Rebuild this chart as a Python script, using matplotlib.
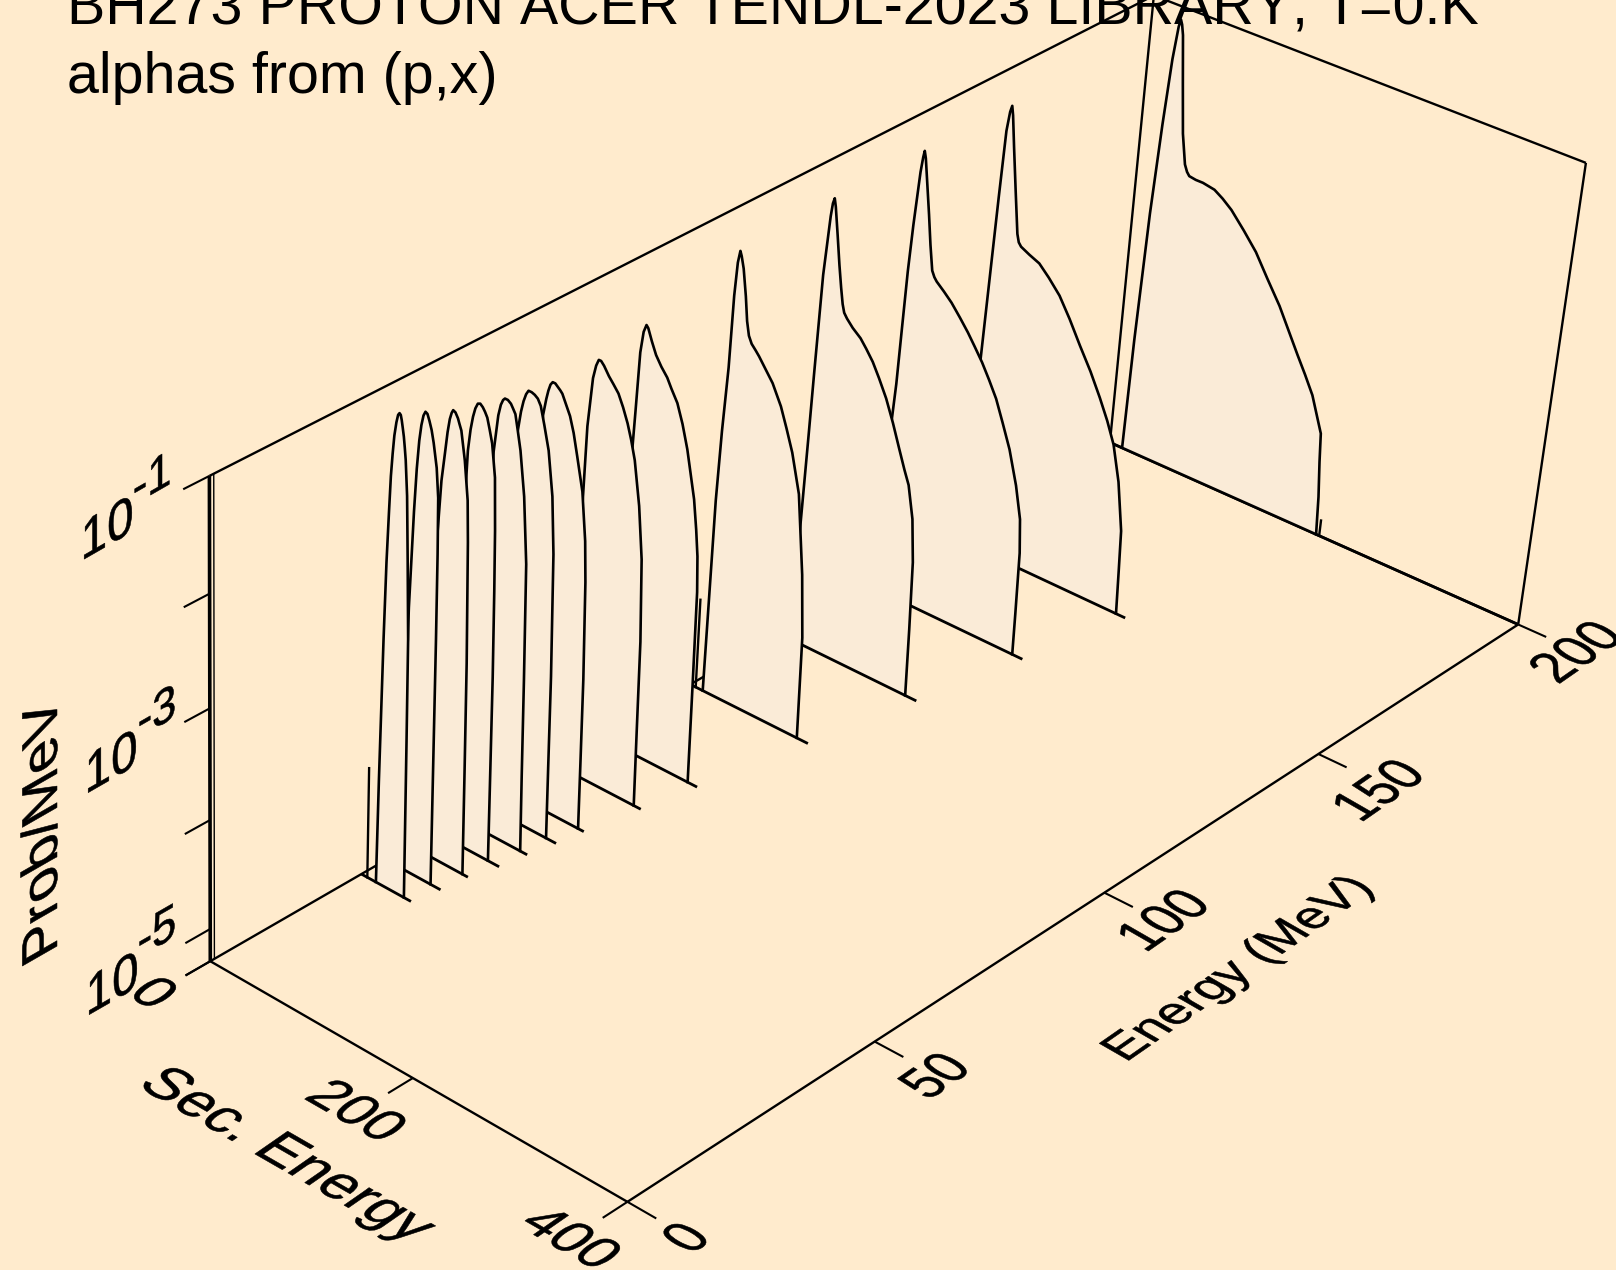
import numpy as np
import matplotlib
matplotlib.use("Agg")
import matplotlib.pyplot as plt
from matplotlib.patheffects import AbstractPathEffect
from matplotlib.transforms import Affine2D

# Incident energies of the ribs (MeV), and where each floor line stops
energies = [200, 160, 140, 120, 100, 80, 70, 60, 55, 50, 45, 40, 35, 30]
base_end = [400, 177, 158, 138, 118, 98, 88, 78, 74, 69, 65, 58, 55, 50]

# Secondary energy (MeV) and log10(prob/MeV)
sec_200 = [12.5, 13.9, 16.8, 20.2, 23.4, 26.2, 27.7, 29.2, 31, 35.5, 40.4, 45.3, 48, 50.5, 57, 64, 75.5, 84, 93.4, 107, 120.5, 134, 148, 159, 170, 179, 188, 200, 202, 205, 207]
log_200 = [-5.3, -4.22, -2.98, -2.12, -1.5, -1.19, -1.12, -1.16, -1.25, -1.68, -2.13, -2.4, -2.46, -2.49, -2.5, -2.5, -2.52, -2.57, -2.64, -2.78, -2.93, -3.13, -3.33, -3.52, -3.71, -3.86, -4.02, -4.34, -4.61, -4.94, -5.3]
sec_160 = [12.5, 17, 21.5, 23.5, 25.5, 27, 28.5, 32, 37, 42, 44, 46.5, 55, 65, 75, 86.6, 98, 110, 122, 133, 142, 150, 158, 165, 166.5, 168]
log_160 = [-5.3, -3.53, -1.97, -1.36, -1.18, -1.12, -1.2, -1.48, -1.86, -2.23, -2.3, -2.33, -2.37, -2.41, -2.5, -2.62, -2.79, -2.99, -3.18, -3.38, -3.56, -3.75, -4.07, -4.51, -4.89, -5.3]
sec_140 = [12.5, 14.5, 16.5, 18, 19.5, 21.5, 24.5, 26, 27, 28.5, 32, 35.5, 39, 42.5, 45, 47.5, 55, 63, 72, 80.5, 88, 96, 104, 112, 120, 128.5, 137.5, 144, 146.5, 147.5, 148]
log_140 = [-5.3, -3.68, -3.3, -2.76, -2.24, -1.81, -1.32, -1.18, -1.12, -1.18, -1.42, -1.66, -1.92, -2.14, -2.19, -2.22, -2.28, -2.35, -2.45, -2.55, -2.65, -2.76, -2.89, -3.03, -3.22, -3.43, -3.73, -4.02, -4.33, -4.91, -5.3]
sec_120 = [12.5, 14.5, 16.8, 18.3, 20.8, 24.3, 25.6, 27, 28.5, 32, 35.5, 38.5, 41, 43, 46, 52, 60, 66, 73, 80, 88, 96, 103.5, 110, 115, 121, 124.5, 126, 127]
log_120 = [-5.3, -4.2, -3.35, -2.75, -1.84, -1.3, -1.18, -1.13, -1.2, -1.44, -1.69, -1.88, -2.02, -2.09, -2.13, -2.19, -2.25, -2.32, -2.41, -2.53, -2.68, -2.87, -3.07, -3.24, -3.36, -3.65, -4.04, -4.67, -5.3]
sec_100 = [12.6, 15.2, 17.5, 20.5, 22, 23.7, 25.5, 27, 29.5, 33, 35.5, 38, 41, 45, 48.7, 55, 62.9, 72, 78.5, 85.3, 94, 102, 106, 107]
log_100 = [-5.3, -3.48, -2.83, -2.24, -1.59, -1.29, -1.18, -1.22, -1.32, -1.55, -1.76, -1.88, -1.94, -1.98, -2.02, -2.1, -2.2, -2.37, -2.54, -2.73, -3.07, -3.78, -4.35, -5.3]
sec_80 = [14, 16, 19.5, 21, 23, 25.3, 27.7, 29.5, 31.5, 33.5, 38, 43.5, 49.5, 54, 60.2, 66, 71.7, 76, 80.5, 84, 86.5, 88, 88.4, 88.6]
log_80 = [-5.3, -4, -2.55, -2.18, -1.65, -1.46, -1.39, -1.41, -1.46, -1.51, -1.61, -1.69, -1.76, -1.84, -1.94, -2.1, -2.3, -2.5, -2.71, -2.97, -3.2, -3.52, -4.4, -5.3]
sec_70 = [14.5, 16, 18, 20.5, 24, 26.5, 28.8, 31, 34, 39, 43.5, 48.6, 53.5, 58.4, 62.5, 66.7, 72.8, 77.5, 80, 80.5, 81]
log_70 = [-5.3, -4.2, -3.13, -2.09, -1.65, -1.53, -1.47, -1.47, -1.5, -1.57, -1.62, -1.68, -1.78, -1.9, -2.03, -2.19, -2.57, -3.03, -3.77, -4.6, -5.3]
sec_60 = [15, 17, 20.5, 23.5, 26, 27.7, 29.5, 31.5, 34, 36.5, 39, 41, 44.5, 49, 53, 57.3, 63.4, 67.9, 69.7, 71.5, 72, 72.3]
log_60 = [-5.3, -4.2, -2.7, -1.75, -1.6, -1.52, -1.46, -1.43, -1.43, -1.45, -1.47, -1.49, -1.56, -1.65, -1.78, -1.97, -2.25, -2.67, -3.03, -3.91, -4.7, -5.3]
sec_55 = [15, 17, 20, 23, 25.5, 27.6, 29.8, 32, 35, 38, 41, 44, 48, 52.9, 58, 61, 63, 63.5, 64]
log_55 = [-5.3, -4.2, -2.8, -1.78, -1.6, -1.5, -1.43, -1.39, -1.39, -1.4, -1.42, -1.47, -1.62, -1.82, -2.2, -2.7, -3.8, -4.6, -5.3]
sec_50 = [15, 17, 20, 24, 27.4, 29.5, 31.5, 33.2, 36, 39, 41, 43.5, 46, 49.4, 54.3, 58.4, 60, 61, 62]
log_50 = [-5.3, -4.2, -2.9, -1.84, -1.51, -1.41, -1.36, -1.34, -1.34, -1.36, -1.39, -1.43, -1.55, -1.72, -2.1, -2.68, -3.72, -4.6, -5.3]
sec_45 = [15, 16.5, 18.5, 21.5, 23, 25, 27, 29, 31.2, 33.5, 36, 38.2, 40.5, 43, 45.8, 49.4, 51, 52, 53, 53.5, 53.8]
log_45 = [-5.3, -4.2, -3, -2.14, -1.72, -1.53, -1.41, -1.33, -1.28, -1.27, -1.29, -1.32, -1.36, -1.45, -1.56, -1.84, -2.3, -2.83, -3.6, -4.6, -5.3]
sec_40 = [15, 16.2, 18.5, 22.3, 25, 27, 28.8, 30.4, 31.8, 34, 36.5, 38, 40, 44, 47.7, 49, 51, 51.8, 52.5]
log_40 = [-5.3, -4.2, -2.56, -1.87, -1.62, -1.43, -1.31, -1.25, -1.22, -1.23, -1.27, -1.31, -1.36, -1.6, -1.93, -2.29, -3.36, -4.3, -5.3]
sec_35 = [14.8, 15.8, 17.7, 20.7, 22.5, 24.3, 26, 27.8, 29.6, 31.5, 33.5, 35.8, 38, 41.4, 43.5, 44.2, 44.6, 44.8, 45]
log_35 = [-5.3, -4.2, -2.89, -2.03, -1.65, -1.4, -1.26, -1.17, -1.13, -1.14, -1.19, -1.26, -1.36, -1.56, -1.81, -2.3, -3.05, -4.2, -5.3]
sec_30 = [14.7, 15.9, 18, 19.5, 21, 22.2, 23.5, 24.8, 26.5, 28, 29.3, 30.5, 31.5, 32.6, 33.8, 34.9, 36, 38, 39.8, 41.8, 42.3, 42.9]
log_30 = [-5.3, -4.34, -3.05, -2.36, -1.92, -1.6, -1.4, -1.24, -1.12, -1.05, -1.03, -1.04, -1.08, -1.14, -1.21, -1.3, -1.4, -1.7, -2.25, -2.94, -3.84, -5.3]

sec_all = [sec_200, sec_160, sec_140, sec_120, sec_100, sec_80, sec_70, sec_60, sec_55, sec_50, sec_45, sec_40, sec_35, sec_30]
log_all = [log_200, log_160, log_140, log_120, log_100, log_80, log_70, log_60, log_55, log_50, log_45, log_40, log_35, log_30]

# Short spikes standing next to some ribs
spike_energy = [200, 100, 30]
spike_sec = [210, 5.5, 6]
spike_top = [-5.15, -4.46, -4.28]

# Axis ranges and ticks
ZMIN, ZMAX = np.log10(5e-6), -1.0
e_ticks = [0, 50, 100, 150, 200]
s_ticks = [0, 200, 400]
z_ticks = [-1, -2, -3, -4, -5, ZMIN]

BG = "#FFEBCD"
RIB = "#FAEBD7"

# Camera: where known places of the box land on the canvas (E, s, log10 p, px, py)
camera_points = [
    (0, 0, ZMIN, 210, 961), (0, 0, -1, 210, 475), (0, 400, ZMIN, 628, 1202),
    (200, 400, ZMIN, 1517, 624), (200, 400, -1, 1587, 163), (200, 0, ZMIN, 1112, 443),
    (200, 0, -1, 1152, -5), (0, 200, ZMIN, 411, 1078), (50, 400, ZMIN, 876, 1041),
    (100, 400, ZMIN, 1104, 893.5), (150, 400, ZMIN, 1318, 754),
    (0, 0, -2, 210, 595), (0, 0, -3, 210, 709), (0, 0, -4, 210, 820), (0, 0, -5, 210, 928),
]


def fit_camera(points):
    rows, rhs = [], []
    for e, s, z, px, py in points:
        X = [e / 200, s / 400, z + 5.3, 1]
        rows.append(X + [0, 0, 0, 0] + [-px * v for v in X[:3]])
        rhs.append(px)
        rows.append([0, 0, 0, 0] + X + [-py * v for v in X[:3]])
        rhs.append(py)
    sol = np.linalg.lstsq(np.array(rows), np.array(rhs), rcond=None)[0]
    return np.append(sol, 1.0).reshape(3, 4)


P = fit_camera(camera_points)


def project(e, s, z):
    e, s, z = np.broadcast_arrays(np.asarray(e, float), np.asarray(s, float), np.asarray(z, float))
    X = np.stack([e / 200, s / 400, z + 5.3, np.ones_like(e)])
    u = P @ X
    return u[0] / u[2], u[1] / u[2]


class PlaneText(AbstractPathEffect):
    # lays a text into a plane of the box, centred on its anchor
    def __init__(self, right, up):
        super().__init__()
        self.right = right
        self.up = up

    def draw_path(self, renderer, gc, tpath, affine, rgbFace=None):
        m = affine.get_matrix()
        k, ox, oy = m[0, 0], m[0, 2], m[1, 2]
        ext = tpath.get_extents()
        cx, cy = (ext.x0 + ext.x1) / 2, (ext.y0 + ext.y1) / 2
        rx, ry = self.right[0] * k, self.right[1] * k
        ux, uy = self.up[0] * k, self.up[1] * k
        a = Affine2D.from_values(rx, ry, ux, uy, ox - rx * cx - ux * cy, oy - ry * cx - uy * cy)
        gc.set_linewidth(0.4)
        renderer.draw_path(gc, tpath, a, rgbFace)


plt.rcParams["font.family"] = ["Liberation Sans", "DejaVu Sans"]
plt.rcParams["text.kerning_factor"] = 6

fig = plt.figure(figsize=(16.16, 12.70), dpi=100, facecolor=BG)
ax = fig.add_axes([0, 0, 1, 1])
ax.set_xlim(0, 1616)
ax.set_ylim(1270, 0)
ax.axis("off")


def line3(e, s, z, lw=1.7, zorder=2):
    x, y = project(e, s, z)
    ax.plot(x, y, color="k", lw=lw, solid_capstyle="butt", solid_joinstyle="miter", zorder=zorder)


def label(x, y, txt, em, right, up):
    ax.text(x, y, txt, fontsize=em * 0.72, ha="left", va="baseline", color="k", clip_on=False,
            path_effects=[PlaneText(right, up)], zorder=6)


# Box
line3([0, 0], [0, 400], [ZMIN, ZMIN])
line3([0, 200], [400, 400], [ZMIN, ZMIN])
line3([200, 200], [0, 400], [ZMIN, ZMIN], lw=1.9)
line3([0, 200], [0, 0], [ZMIN, ZMIN])
line3([0, 0], [0, 0], [ZMIN, ZMAX], lw=2.6)
line3([0.8, 0.8], [0, 0], [ZMIN, ZMAX], lw=1.0)
line3([200, 200], [0, 0], [ZMIN, ZMAX])
line3([200, 200], [400, 400], [ZMIN, ZMAX])
line3([0, 200], [0, 0], [ZMAX, ZMAX])
line3([200, 200], [0, 400], [ZMAX, ZMAX])

# Ticks
for t in e_ticks:
    line3([t, t], [400, 426], [ZMIN, ZMIN], lw=1.5)
for t in s_ticks:
    line3([0, -4.8], [t, t], [ZMIN, ZMIN], lw=1.5)
for t in z_ticks:
    line3([0, -4.8], [0, 0], [t, t], lw=1.5)

# Ribs, far ones first so the near ones cover them
for i in range(len(energies)):
    e = energies[i]
    x, y = project(e, sec_all[i], log_all[i])
    ax.fill(x, y, color=RIB, lw=0, zorder=3 + i * 0.01)
    x0, y0 = project(e, [0, base_end[i]], [ZMIN, ZMIN])
    ax.plot(x0, y0, color="k", lw=2.0, solid_capstyle="butt", zorder=3 + i * 0.01)
    ax.plot(x, y, color="k", lw=1.9, solid_joinstyle="round", zorder=3 + i * 0.01)
    for j in range(len(spike_energy)):
        if spike_energy[j] == e:
            xs, ys = project([e, e], [spike_sec[j], spike_sec[j]], [ZMIN, spike_top[j]])
            ax.plot(xs, ys, color="k", lw=1.7, zorder=3 + i * 0.01)

# Title, its first line runs off the top as in the original
ax.text(67, 24, "BH273 PROTON ACER TENDL-2023 LIBRARY; T=0.K", fontsize=41.3, va="baseline", clip_on=False, zorder=1)
ax.text(67, 92.7, "alphas from (p,x)", fontsize=41.3, va="baseline", clip_on=False, zorder=1)

# Directions of the box edges on the canvas (y up)
e_dir = (0.82, 0.57)
e_wall = (0.867, 0.498)
s_dir = (0.87, -0.50)
minus_s = (-0.87, 0.50)
minus_e = (-0.867, -0.498)
z_dir = (0.0, 1.0)
up_tall = (minus_s[0] * 1.15, minus_s[1] * 1.15)

# Tick labels and axis titles
e_label_xy = [(685, 1237), (934, 1075), (1163, 919), (1378, 789), (1575, 651)]
for t, (x, y) in zip(e_ticks, e_label_xy):
    label(x, y, str(t), 50, e_dir, up_tall)
s_label_xy = [(155, 992), (358, 1110), (572, 1237)]
for t, (x, y) in zip(s_ticks, s_label_xy):
    label(x, y, str(t), 55, s_dir, e_dir)
z_label_xy = [(108, 526.5, 152, 477, "-1"), (112, 760, 157, 710, "-3"), (113, 982, 157, 930, "-5")]
for x, y, x2, y2, txt in z_label_xy:
    label(x, y, "10", 55, e_wall, z_dir)
    label(x2, y2, txt, 50, e_wall, z_dir)
label(1240, 969, "Energy (MeV)", 49.5, e_dir, minus_s)
label(286, 1157, "Sec. Energy", 58, s_dir, e_dir)
label(39, 830, "Prob/MeV", 58, z_dir, minus_e)

fig.savefig("out.png", dpi=100, facecolor=BG)
